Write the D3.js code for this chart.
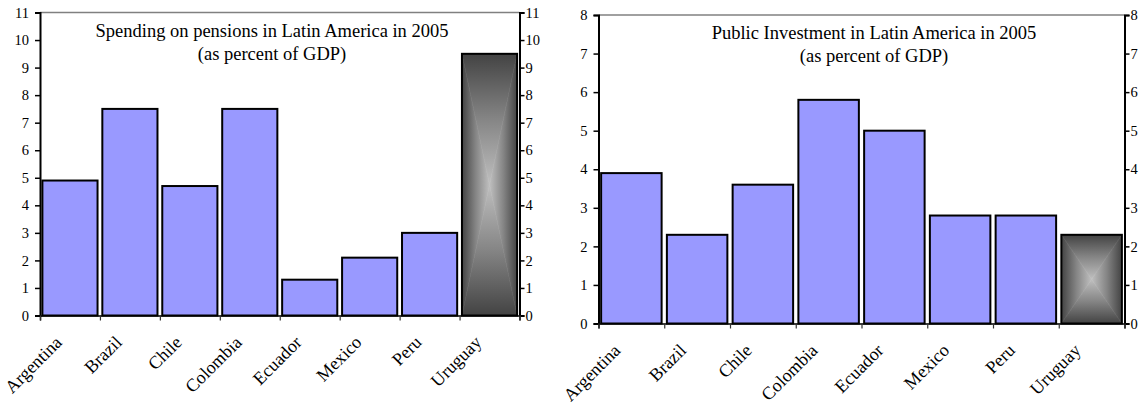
<!DOCTYPE html>
<html>
<head>
<meta charset="utf-8">
<script src="https://cdn.jsdelivr.net/npm/d3@7"></script>
<style>
  html, body { margin: 0; padding: 0; background: #fff; }
  svg { display: block; }
  text { font-family: "Liberation Serif", "Times New Roman", serif; fill: #000; }
</style>
</head>
<body>
<svg id="chart" width="1147" height="408"></svg>
<script>
// Countries shown on both charts
const countries = ["Argentina", "Brazil", "Chile", "Colombia", "Ecuador", "Mexico", "Peru", "Uruguay"];

// Pension spending, % of GDP, 2005
const pensionValues = [4.9, 7.5, 4.7, 7.5, 1.3, 2.1, 3.0, 9.5];
const pensionTicks = [0, 1, 2, 3, 4, 5, 6, 7, 8, 9, 10, 11];
const pensionTitle = ["Spending on pensions in Latin America in 2005", "(as percent of GDP)"];

// Public investment, % of GDP, 2005
const investmentValues = [3.9, 2.3, 3.6, 5.8, 5.0, 2.8, 2.8, 2.3];
const investmentTicks = [0, 1, 2, 3, 4, 5, 6, 7, 8];
const investmentTitle = ["Public Investment in Latin America in 2005", "(as percent of GDP)"];

// Country whose bar gets the shaded fill
const highlighted = "Uruguay";

const svg = d3.select("#chart");
const defs = svg.append("defs");

function drawChart(opts) {
  const { id, values, ticks, title, left, right, top, bottom, titleX, titleY } = opts;
  const g = svg.append("g");

  const x = d3.scaleBand().domain(countries).range([left, right])
    .paddingInner(0.08).paddingOuter(0.04);
  const xEdge = d3.scaleLinear().domain([0, countries.length]).range([left, right]);
  const y = d3.scaleLinear().domain([0, d3.max(ticks)]).range([bottom, top]);

  // top frame line
  g.append("line")
    .attr("x1", left).attr("x2", right).attr("y1", top).attr("y2", top)
    .attr("stroke", "#808080").attr("stroke-width", 1.5);

  // bars
  values.forEach((v, i) => {
    const c = countries[i];
    const bx = x(c), bw = x.bandwidth();
    const by = y(v), bh = y(0) - y(v);
    if (c === highlighted) {
      // rectangular "from centre" shading built from four triangles
      const cx = bx + bw / 2, cy = by + bh / 2;
      const parts = [
        { pts: [[bx, by], [bx + bw, by], [cx, cy]], g: [cx, by, cx, cy] },
        { pts: [[bx, by + bh], [bx + bw, by + bh], [cx, cy]], g: [cx, by + bh, cx, cy] },
        { pts: [[bx, by], [bx, by + bh], [cx, cy]], g: [bx, cy, cx, cy] },
        { pts: [[bx + bw, by], [bx + bw, by + bh], [cx, cy]], g: [bx + bw, cy, cx, cy] }
      ];
      parts.forEach((p, k) => {
        const gid = `${id}-shade-${k}`;
        const lg = defs.append("linearGradient").attr("id", gid)
          .attr("gradientUnits", "userSpaceOnUse")
          .attr("x1", p.g[0]).attr("y1", p.g[1]).attr("x2", p.g[2]).attr("y2", p.g[3]);
        lg.append("stop").attr("offset", 0).attr("stop-color", "#434343");
        lg.append("stop").attr("offset", 0.5).attr("stop-color", "#858585");
        lg.append("stop").attr("offset", 1).attr("stop-color", "#bfbfbf");
        g.append("polygon")
          .attr("points", p.pts.map(q => q.join(",")).join(" "))
          .attr("fill", `url(#${gid})`)
          .attr("stroke", `url(#${gid})`).attr("stroke-width", 0.6);
      });
      g.append("rect").attr("x", bx).attr("y", by).attr("width", bw).attr("height", bh)
        .attr("fill", "none").attr("stroke", "#000").attr("stroke-width", 2);
    } else {
      g.append("rect").attr("x", bx).attr("y", by).attr("width", bw).attr("height", bh)
        .attr("fill", "#9999ff").attr("stroke", "#000").attr("stroke-width", 2);
    }
  });

  // left value axis
  const yl = g.append("g").attr("transform", `translate(${left},0)`)
    .call(d3.axisLeft(y).tickValues(ticks).tickSize(5).tickPadding(6).tickFormat(d3.format("d")));
  // right value axis
  const yr = g.append("g").attr("transform", `translate(${right},0)`)
    .call(d3.axisRight(y).tickValues(ticks).tickSize(5).tickPadding(1).tickFormat(d3.format("d")));
  [yl, yr].forEach(a => {
    a.select(".domain").attr("stroke", "#000").attr("stroke-width", 2);
    a.selectAll(".tick line").attr("stroke", "#000").attr("stroke-width", 1.5);
    a.selectAll(".tick text").style("font-size", "14.5px")
      .style("font-family", "'Liberation Serif', serif");
  });

  // category axis: ticks at band edges
  const xa = g.append("g").attr("transform", `translate(0,${bottom})`)
    .call(d3.axisBottom(xEdge).tickValues(d3.range(countries.length + 1)).tickSize(5).tickFormat(""));
  xa.select(".domain").attr("stroke", "#000").attr("stroke-width", 1.5);
  xa.selectAll(".tick line").attr("stroke", "#333").attr("stroke-width", 1.2);

  // rotated category labels
  g.selectAll("text.cat").data(countries).enter().append("text")
    .attr("class", "cat")
    .attr("text-anchor", "end")
    .style("font-size", "18px")
    .attr("transform", (d, i) => `translate(${xEdge(i) + 23},${bottom + 28}) rotate(-45)`)
    .text(d => d);

  // title
  g.append("text").attr("x", titleX).attr("y", titleY).attr("text-anchor", "middle")
    .style("font-size", "18.5px").text(title[0]);
  g.append("text").attr("x", titleX).attr("y", titleY + 23).attr("text-anchor", "middle")
    .style("font-size", "18.5px").text(title[1]);
}

drawChart({
  id: "pension", values: pensionValues, ticks: pensionTicks, title: pensionTitle,
  left: 40, right: 519.5, top: 12.5, bottom: 315.5, titleX: 272, titleY: 37
});

drawChart({
  id: "invest", values: investmentValues, ticks: investmentTicks, title: investmentTitle,
  left: 598.5, right: 1124.5, top: 15, bottom: 323.5, titleX: 874, titleY: 39
});
</script>
</body>
</html>
